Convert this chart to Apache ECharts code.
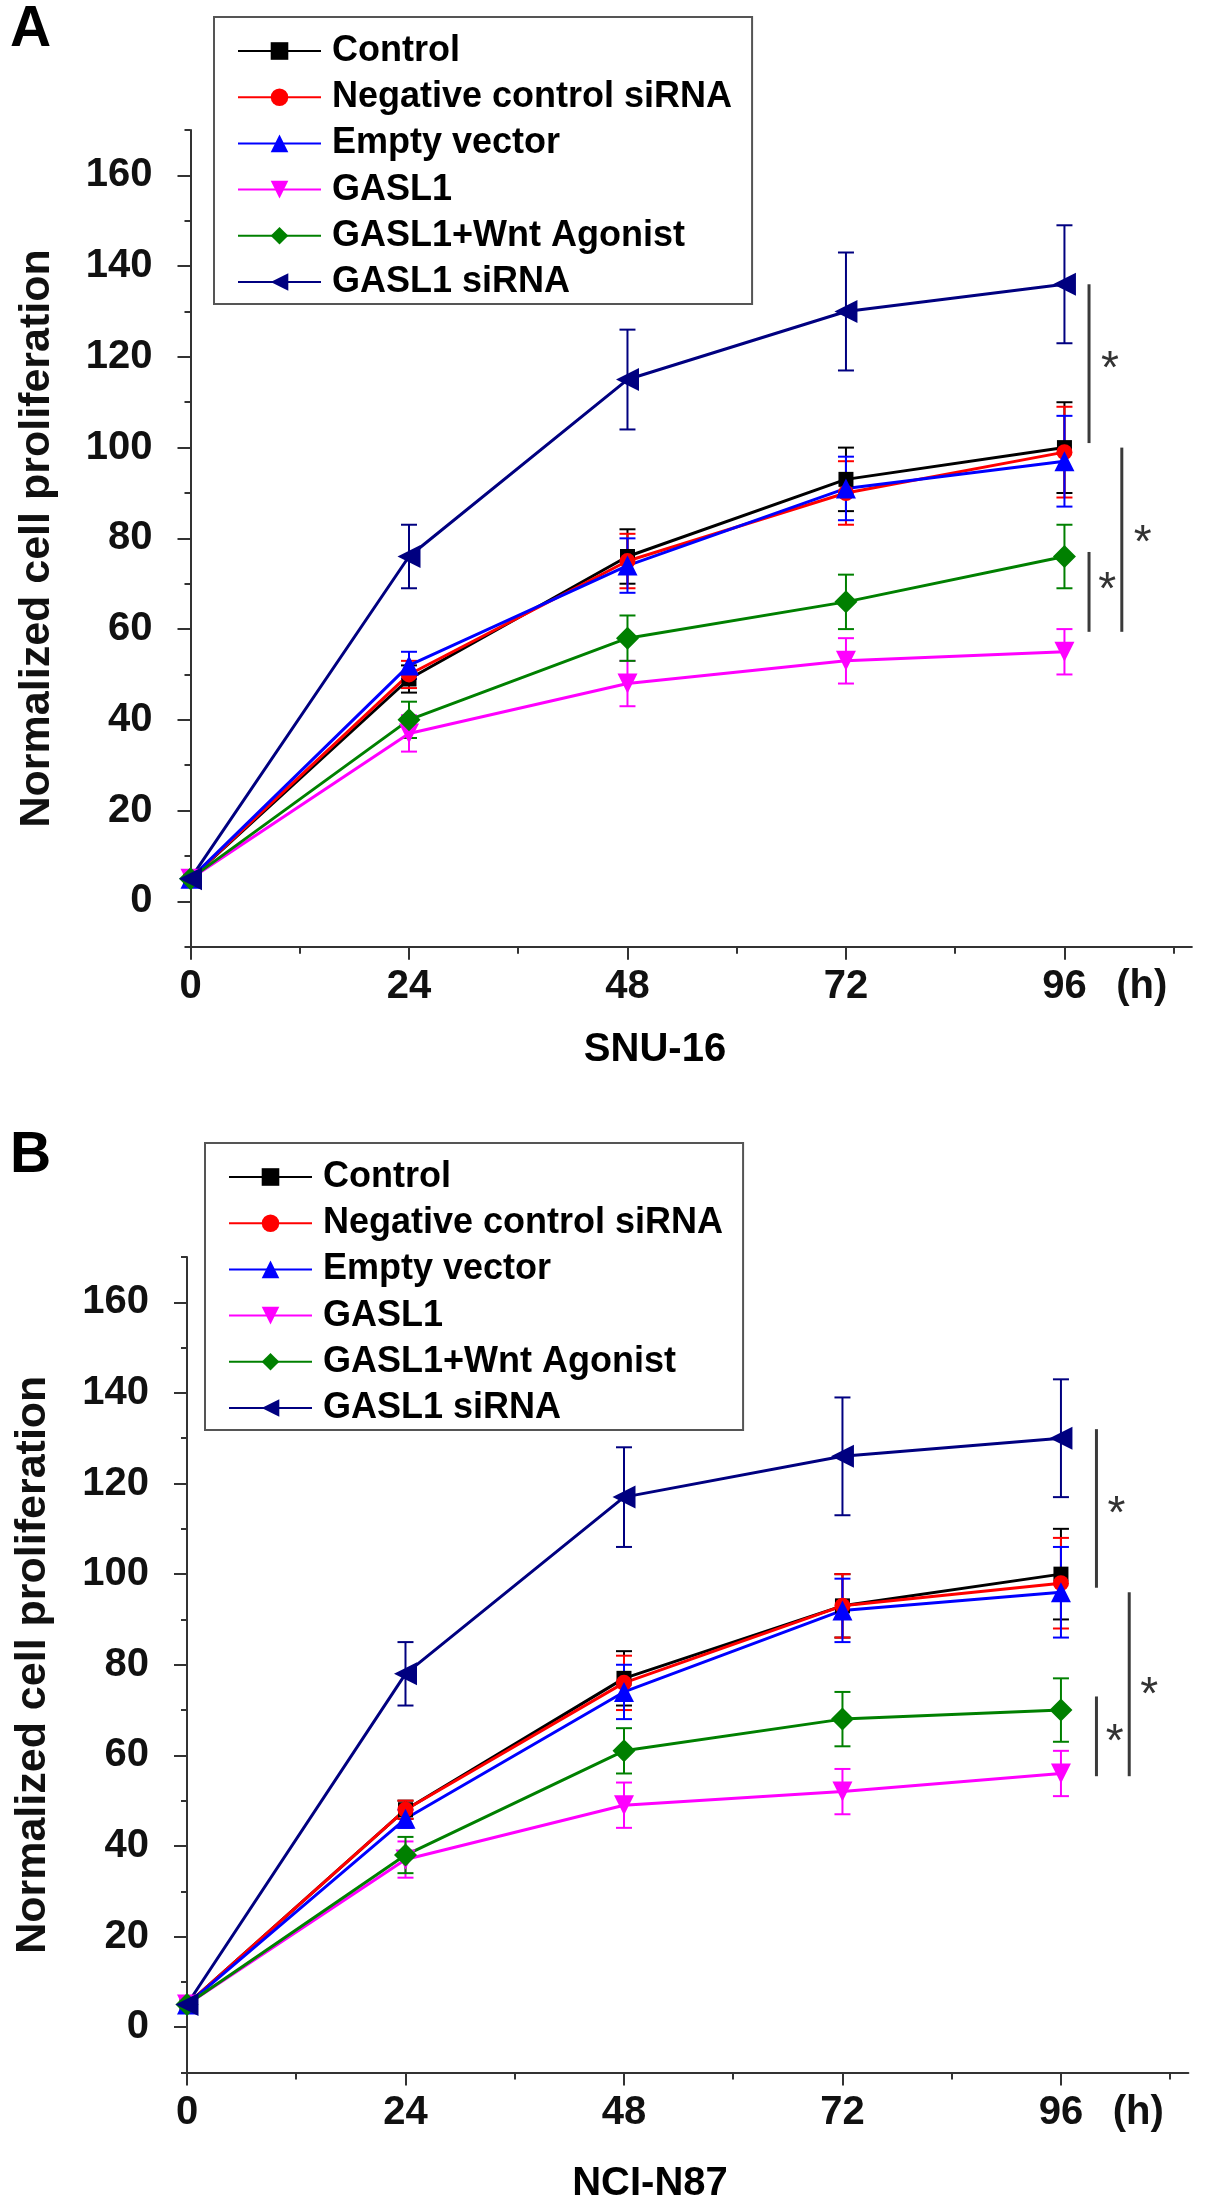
<!DOCTYPE html>
<html>
<head>
<meta charset="utf-8">
<title>Cell proliferation</title>
<script src="https://cdn.jsdelivr.net/npm/echarts@6/dist/echarts.min.js"></script>
<style>
  html, body { margin: 0; padding: 0; background: #fff; }
  #main { width: 1205px; height: 2211px; }
</style>
</head>
<body>
<div id="main"></div>
<script>
// time points (h)
var hours = [0, 24, 48, 72, 96];
var groupNames = ['Control', 'Negative control siRNA', 'Empty vector', 'GASL1', 'GASL1+Wnt Agonist', 'GASL1 siRNA'];

// SNU-16, one row per group (same order as groupNames)
var snuMeans = [
  [5, 49, 76, 93, 100],
  [5, 50, 75, 90, 99],
  [5, 52, 74, 91, 97],
  [5, 37, 48, 53, 55],
  [5, 40, 58, 66, 76],
  [5, 76, 115, 130, 136]
];
var snuErrors = [
  [0, 3, 6, 7, 10],
  [0, 3, 6, 7, 10],
  [0, 3, 6, 7, 10],
  [0, 4, 5, 5, 5],
  [0, 4, 5, 6, 7],
  [0, 7, 11, 13, 13]
];

// NCI-N87
var nciMeans = [
  [5, 48, 77, 93, 100],
  [5, 48, 76, 93, 98],
  [5, 46, 74, 92, 96],
  [5, 37, 49, 52, 56],
  [5, 38, 61, 68, 70],
  [5, 78, 117, 126, 130]
];
var nciErrors = [
  [0, 2, 6, 7, 10],
  [0, 2, 6, 7, 10],
  [0, 2, 6, 7, 10],
  [0, 4, 5, 5, 5],
  [0, 4, 5, 6, 7],
  [0, 7, 11, 13, 13]
];

// significance brackets: [x, yTop, yBottom] and stars: [x, y]
var snuBrackets = [[98.7, 136, 101], [102.3, 100, 59.4], [98.7, 77, 59.4]];
var snuStars = [[101, 119], [104.6, 80.6], [100.7, 70.4]];
var nciBrackets = [[99.9, 132, 97], [103.5, 96, 55.4], [99.9, 73, 55.4]];
var nciStars = [[102.1, 114.9], [105.7, 75], [101.9, 64.6]];

// axis ticks
var xMajor = [0, 24, 48, 72, 96];
var xMinor = [12, 36, 60, 84, 108];
var yMajor = [0, 20, 40, 60, 80, 100, 120, 140, 160];
var yMinor = [-10, 10, 30, 50, 70, 90, 110, 130, 150, 170];
var hourUnitPos = 104.5; // where "(h)" sits on the x axis

var colors = ['#000000', '#ff0000', '#0000ff', '#ff00ff', '#008000', '#000080'];
var symbols = ['rect', 'circle', 'triangle', 'triangle', 'diamond', 'triangle'];
var symbolSizes = [15, 16, 20, 20, 23, 23];
var symbolRotates = [0, 0, 0, 180, 0, 90];

var FONT = '"Liberation Sans", Arial, sans-serif';
var AXIS_COLOR = '#333';

var chart = echarts.init(document.getElementById('main'));

// 主轴 + 次刻度轴
function makeXAxes(grid) {
  return [{
    type: 'value', gridIndex: grid, position: 'bottom', min: 0, max: 110,
    axisLine: { show: true, onZero: false, lineStyle: { color: AXIS_COLOR, width: 2 } },
    axisTick: { show: true, length: 13, customValues: xMajor, lineStyle: { color: AXIS_COLOR, width: 2 } },
    axisLabel: {
      customValues: xMajor.concat([hourUnitPos]),
      formatter: function (v) { return v === hourUnitPos ? '(h)' : String(v); },
      margin: 20, fontSize: 40, fontWeight: 'bold', fontFamily: FONT, color: '#111'
    },
    splitLine: { show: false }
  }, {
    type: 'value', gridIndex: grid, position: 'bottom', min: 0, max: 110,
    axisLine: { show: false, onZero: false },
    axisTick: { show: true, length: 7, customValues: xMinor, lineStyle: { color: AXIS_COLOR, width: 2 } },
    axisLabel: { show: false },
    splitLine: { show: false }
  }];
}

function makeYAxes(grid) {
  return [{
    type: 'value', gridIndex: grid, position: 'left', min: -10, max: 170,
    name: 'Normalized cell proliferation',
    nameLocation: 'middle', nameGap: 132,
    nameTextStyle: { fontSize: 43, fontWeight: 'bold', fontFamily: FONT, color: '#111' },
    axisLine: { show: true, onZero: false, lineStyle: { color: AXIS_COLOR, width: 2 } },
    axisTick: { show: true, length: 13, customValues: yMajor, lineStyle: { color: AXIS_COLOR, width: 2 } },
    axisLabel: {
      customValues: yMajor, margin: 38,
      fontSize: 40, fontWeight: 'bold', fontFamily: FONT, color: '#111'
    },
    splitLine: { show: false }
  }, {
    type: 'value', gridIndex: grid, position: 'left', min: -10, max: 170,
    axisLine: { show: false, onZero: false },
    axisTick: { show: true, length: 6, customValues: yMinor, lineStyle: { color: AXIS_COLOR, width: 2 } },
    axisLabel: { show: false },
    splitLine: { show: false }
  }];
}

function errorBarSeries(axisIdx, means, errors, color) {
  return {
    type: 'custom', xAxisIndex: axisIdx, yAxisIndex: axisIdx, silent: true, z: 2,
    encode: { x: 0, y: [1, 2] },
    data: hours.map(function (h, i) { return [h, means[i] - errors[i], means[i] + errors[i]]; }),
    renderItem: function (params, api) {
      var lo = api.value(1), hi = api.value(2);
      if (hi - lo <= 0) return;
      var top = api.coord([api.value(0), hi]);
      var bot = api.coord([api.value(0), lo]);
      var cw = 8;
      var st = { stroke: color, lineWidth: 2 };
      return {
        type: 'group',
        children: [
          { type: 'line', shape: { x1: top[0], y1: top[1], x2: bot[0], y2: bot[1] }, style: st },
          { type: 'line', shape: { x1: top[0] - cw, y1: top[1], x2: top[0] + cw, y2: top[1] }, style: st },
          { type: 'line', shape: { x1: bot[0] - cw, y1: bot[1], x2: bot[0] + cw, y2: bot[1] }, style: st }
        ]
      };
    }
  };
}

function bracketSeries(axisIdx, brackets) {
  return {
    type: 'custom', xAxisIndex: axisIdx, yAxisIndex: axisIdx, silent: true, clip: false, z: 1,
    encode: { x: 0, y: [1, 2] },
    data: brackets,
    renderItem: function (params, api) {
      var p1 = api.coord([api.value(0), api.value(1)]);
      var p2 = api.coord([api.value(0), api.value(2)]);
      return {
        type: 'line',
        shape: { x1: p1[0], y1: p1[1], x2: p2[0], y2: p2[1] },
        style: { stroke: '#3a3a3a', lineWidth: 3 }
      };
    }
  };
}

function starSeries(axisIdx, stars) {
  return {
    type: 'custom', xAxisIndex: axisIdx, yAxisIndex: axisIdx, silent: true, clip: false, z: 1,
    encode: { x: 0, y: 1 },
    data: stars,
    renderItem: function (params, api) {
      var p = api.coord([api.value(0), api.value(1)]);
      return {
        type: 'text', x: p[0], y: p[1] + 9,
        style: { text: '*', fill: '#333', font: '46px ' + FONT, align: 'center', verticalAlign: 'middle' }
      };
    }
  };
}

function panelSeries(axisIdx, means, errors, brackets, stars) {
  var list = [];
  groupNames.forEach(function (name, g) {
    list.push({
      type: 'line', name: name, xAxisIndex: axisIdx, yAxisIndex: axisIdx, z: 3,
      data: hours.map(function (h, i) { return [h, means[g][i]]; }),
      symbol: symbols[g], symbolSize: symbolSizes[g], symbolRotate: symbolRotates[g],
      showAllSymbol: true,
      itemStyle: { color: colors[g] },
      lineStyle: { color: colors[g], width: 3 }
    });
  });
  groupNames.forEach(function (name, g) {
    list.push(errorBarSeries(axisIdx, means[g], errors[g], colors[g]));
  });
  list.push(bracketSeries(axisIdx, brackets));
  list.push(starSeries(axisIdx, stars));
  return list;
}

function makeLegend(left, top) {
  return {
    orient: 'vertical', left: left, top: top,
    data: groupNames,
    padding: [14, 20, 2, 23],
    itemWidth: 83, itemHeight: 22, itemGap: 6.2,
    borderColor: '#555', borderWidth: 2, backgroundColor: '#fff',
    selectedMode: false,
    textStyle: { fontSize: 36, fontWeight: 'bold', fontFamily: FONT, color: '#000', lineHeight: 40, padding: [0, 0, 0, 6] }
  };
}

function panelTitle(text, x, y, size, align) {
  return {
    text: text, left: x, top: y, padding: 0, textAlign: align,
    textStyle: { fontSize: size, fontWeight: 'bold', fontFamily: FONT, color: '#000' }
  };
}

var option = {
  animation: false,
  backgroundColor: '#fff',
  title: [
    panelTitle('A', 10, 2, 57, 'left'),
    panelTitle('SNU-16', 655, 1030, 40, 'center'),
    panelTitle('B', 10, 1128, 57, 'left'),
    panelTitle('NCI-N87', 650, 2164, 40, 'center')
  ],
  legend: [makeLegend(214, 17), makeLegend(205, 1143)],
  grid: [
    { left: 190.5, top: 130, width: 1001.4, height: 816.7, containLabel: false },
    { left: 187, top: 1257, width: 1001.4, height: 815.5, containLabel: false }
  ],
  xAxis: makeXAxes(0).concat(makeXAxes(1)),
  yAxis: makeYAxes(0).concat(makeYAxes(1)),
  series: []
};

// axis index: 0 = A main, 2 = B main (1 and 3 are the minor-tick axes)
option.series = panelSeries(0, snuMeans, snuErrors, snuBrackets, snuStars)
  .concat(panelSeries(2, nciMeans, nciErrors, nciBrackets, nciStars));

chart.setOption(option);
</script>
</body>
</html>
